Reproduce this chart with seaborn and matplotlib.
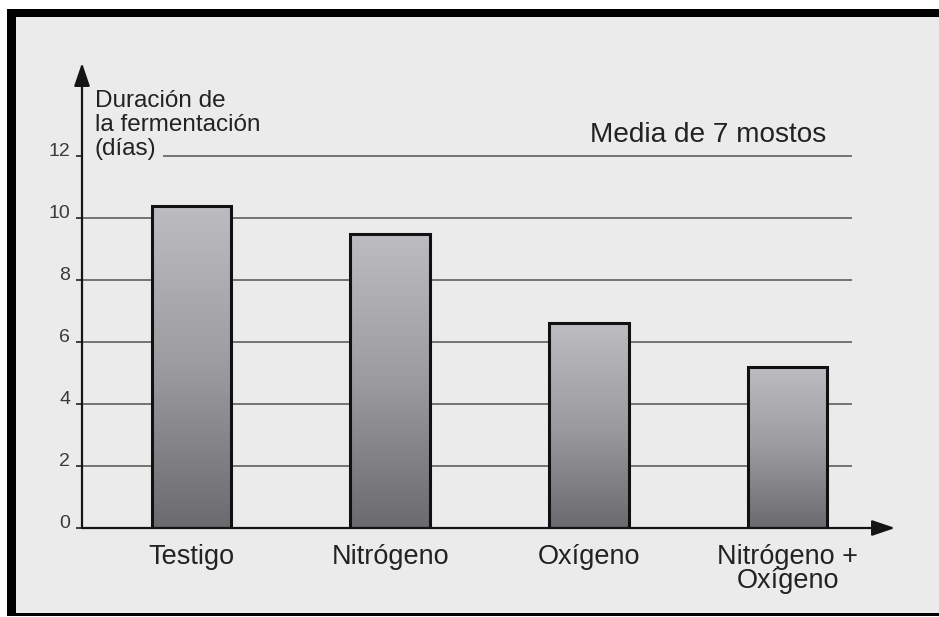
import numpy as np
import matplotlib
matplotlib.use("Agg")
import matplotlib.pyplot as plt
import seaborn as sns
from matplotlib.patches import Rectangle
from matplotlib.colors import LinearSegmentedColormap

# Data
categories = ["Testigo", "Nitrógeno", "Oxígeno", "Nitrógeno +\nOxígeno"]
duracion = [10.4, 9.5, 6.6, 5.2]
yticks = [0, 2, 4, 6, 8, 10, 12]
ylabel_lines = ["Duración de", "la fermentación", "(días)"]
title = "Media de 7 mostos"

sns.set_style("white")
plt.rcParams["font.family"] = ["Liberation Sans", "DejaVu Sans"]

W, H = 939, 617
PAPER = "#ebebec"
fig = plt.figure(figsize=(W / 100, H / 100), dpi=100, facecolor=PAPER)


def fx(x):
    return x / W


def fy(y):
    return 1 - y / H


def strip(x0, y0, x1, y1, color):
    # rectangle given in pixel coordinates (origin top-left)
    fig.add_artist(Rectangle((fx(x0), fy(y1)), (x1 - x0) / W, (y1 - y0) / H,
                             transform=fig.transFigure, facecolor=color,
                             edgecolor="none", zorder=-2))


# white margin and black frame on top, left and bottom
strip(0, 0, W, 9, "white")
strip(0, 0, 7, H, "white")
strip(7, 9, W, 17, "black")
strip(7, 9, 16, 616, "black")
strip(7, 613, W, 616, "black")
strip(0, 616, W, H, "white")

ax = fig.add_axes([fx(82), fy(528), (895 - 82) / W, (528 - 63) / H])
ax.set_facecolor("none")

x_left, x_right = -0.551, 3.541
grid_end = 3.325

sns.barplot(x=categories, y=duracion, order=categories, width=0.4,
            color="#999999", edgecolor="#111111", linewidth=2.2,
            ax=ax, zorder=3)

# vertical gray gradient inside each bar
cmap = LinearSegmentedColormap.from_list(
    "bar", ["#6a6a6f", "#9c9ca0", "#bdbdc1"])
grad = np.linspace(0, 1, 256).reshape(-1, 1)
for p in list(ax.patches):
    x0, w, h = p.get_x(), p.get_width(), p.get_height()
    im = ax.imshow(grad, extent=[x0, x0 + w, 0, h], origin="lower",
                   aspect="auto", cmap=cmap, zorder=2.5, interpolation="bilinear")
    im.set_clip_path(p)
    p.set_facecolor("none")
    p.set_zorder(3)

# horizontal reference lines
for v in yticks[1:]:
    start = -0.143 if v == 12 else x_left
    ax.hlines(v, start, grid_end, color="#6a6a6a", lw=1.3, zorder=1)

ax.set_xlim(x_left, x_right)
ax.set_ylim(0, 15)
for s in ax.spines.values():
    s.set_visible(False)

# axes with arrowheads
arrow_kw = dict(arrowstyle="-|>,head_length=0.7,head_width=0.24",
                color="#151515", lw=1.6, mutation_scale=20,
                shrinkA=0, shrinkB=0)
ax.annotate("", xy=(x_right, 0), xytext=(x_left, 0),
            arrowprops=arrow_kw, annotation_clip=False, zorder=4)
ax.annotate("", xy=(x_left, 15), xytext=(x_left, 0),
            arrowprops=arrow_kw, annotation_clip=False, zorder=4)

ax.set_yticks(yticks)
ax.set_yticklabels([str(v) for v in yticks])
ax.tick_params(axis="y", which="both", left=True, direction="out",
               length=4.5, width=1.2, color="#222222", pad=4,
               labelsize=14, labelcolor="#3a3a3a")
for lab in ax.get_yticklabels():
    lab.set_va("baseline")

ax.tick_params(axis="x", which="both", bottom=False, pad=8,
               labelsize=19.5, labelcolor="#222222")
for lab in ax.get_xticklabels():
    lab.set_linespacing(0.92)
ax.set_xlabel("")
ax.set_ylabel("")

# axis title, stacked beside the vertical axis
for text, base in zip(ylabel_lines, [107, 131, 155]):
    fig.text(fx(95), fy(base), text, fontsize=17.5, color="#222222",
             va="baseline", ha="left")

fig.text(fx(590), fy(142), title, fontsize=20.2, color="#222222",
         va="baseline", ha="left")

fig.savefig("out.png", dpi=100, facecolor=fig.get_facecolor())
